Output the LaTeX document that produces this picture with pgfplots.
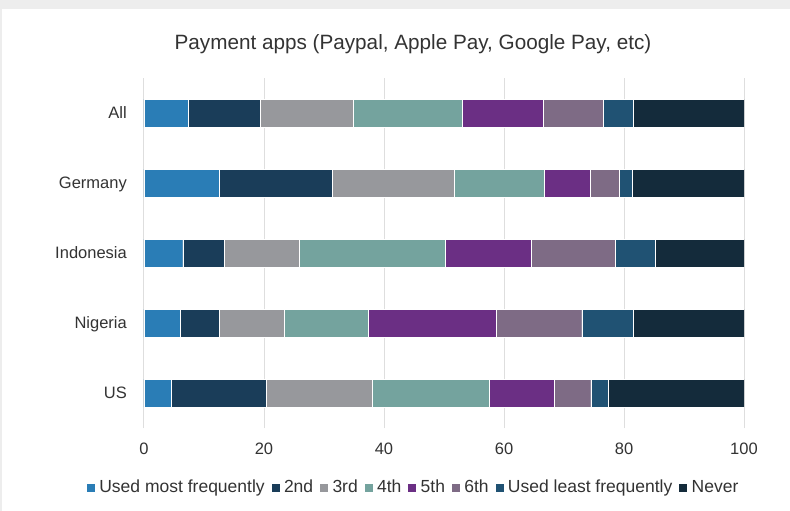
\documentclass[border=0pt]{standalone}
\usepackage{pgfplots}
\usepackage{pgfplotstable}
\pgfplotsset{compat=1.18}
\usepackage{fontspec}
\setmainfont{Liberation Sans}

\definecolor{cMost}{HTML}{2A7DB6}
\definecolor{cSecond}{HTML}{1A3D59}
\definecolor{cThird}{HTML}{97989C}
\definecolor{cFourth}{HTML}{74A39E}
\definecolor{cFifth}{HTML}{6B2F84}
\definecolor{cSixth}{HTML}{7E6B85}
\definecolor{cLeast}{HTML}{205273}
\definecolor{cNever}{HTML}{142B3B}
\definecolor{txt}{HTML}{333333}
\definecolor{gridc}{HTML}{DEDEDE}
\definecolor{frame}{HTML}{EDEDED}

% y: 0 = US, 1 = Nigeria, 2 = Indonesia, 3 = Germany, 4 = All
\pgfplotstableread{
y  s1    s2    s3    s4    s5    s6    s7    s8
0  4.6   15.7  17.8  19.4  10.9  6.05  2.85  22.7
1  6.05  6.5   10.85 13.9  21.37 14.28 8.6   18.45
2  6.45  6.95  12.5  24.3  14.35 14.05 6.6   14.8
3  12.6  18.7  20.4  15.0  7.6   4.9   2.1   18.7
4  7.4   12.0  15.5  18.1  13.6  9.9   5.0   18.5
}\apps

\begin{document}
\begin{tikzpicture}
\fill[frame] (0pt,0pt) rectangle (790pt,-511pt);
\fill[white] (2pt,-9pt) rectangle (790pt,-511pt);
\path[use as bounding box] (0pt,0pt) rectangle (790pt,-511pt);
\node[txt, font=\fontsize{20.7}{24}\selectfont] at (413pt,-44pt) {Payment apps (Paypal, Apple Pay, Google Pay, etc)};
\begin{axis}[
    at={(144pt,-428pt)},
    anchor=south west,
    scale only axis,
    width=600pt,
    height=350pt,
    xbar stacked,
    bar width=28pt,
    xmin=0, xmax=100,
    ymin=-0.5, ymax=4.5,
    xtick={0,20,40,60,80,100},
    ytick={0,1,2,3,4},
    yticklabels={US,Nigeria,Indonesia,Germany,All},
    xmajorgrids=true,
    grid style={gridc, line width=1pt},
    axis line style={draw=none},
    major tick length=0pt,
    /pgf/number format/assume math mode=true,
    xticklabel style={anchor=center, yshift=-21pt, text=txt, font=\fontsize{16.5}{19}\selectfont},
    yticklabel style={anchor=base east, inner sep=0pt, xshift=-17pt, yshift=-5.9pt, text=txt, font=\fontsize{16.5}{19}\selectfont},
    legend columns=8,
    legend style={at={(rel axis cs:0.447,-0.169)}, anchor=center, draw=none, fill=none,
        font=\fontsize{17.5}{20}\selectfont, text=txt,
        nodes={inner sep=0pt},
        /tikz/every odd column/.append style={column sep=4pt},
        /tikz/every even column/.append style={column sep=6pt}},
    legend image code/.code={\fill[#1] (0pt,-4.5pt) rectangle (9pt,4.5pt);},
    every axis plot/.append style={draw=white, line width=0.3pt},
]
\addplot[fill=cMost]   table[x=s1, y=y] {\apps};
\addplot[fill=cSecond] table[x=s2, y=y] {\apps};
\addplot[fill=cThird]  table[x=s3, y=y] {\apps};
\addplot[fill=cFourth] table[x=s4, y=y] {\apps};
\addplot[fill=cFifth]  table[x=s5, y=y] {\apps};
\addplot[fill=cSixth]  table[x=s6, y=y] {\apps};
\addplot[fill=cLeast]  table[x=s7, y=y] {\apps};
\addplot[fill=cNever]  table[x=s8, y=y] {\apps};
\legend{Used most frequently,2nd,3rd,4th,5th,6th,Used least frequently,Never}
\end{axis}
\end{tikzpicture}
\end{document}
